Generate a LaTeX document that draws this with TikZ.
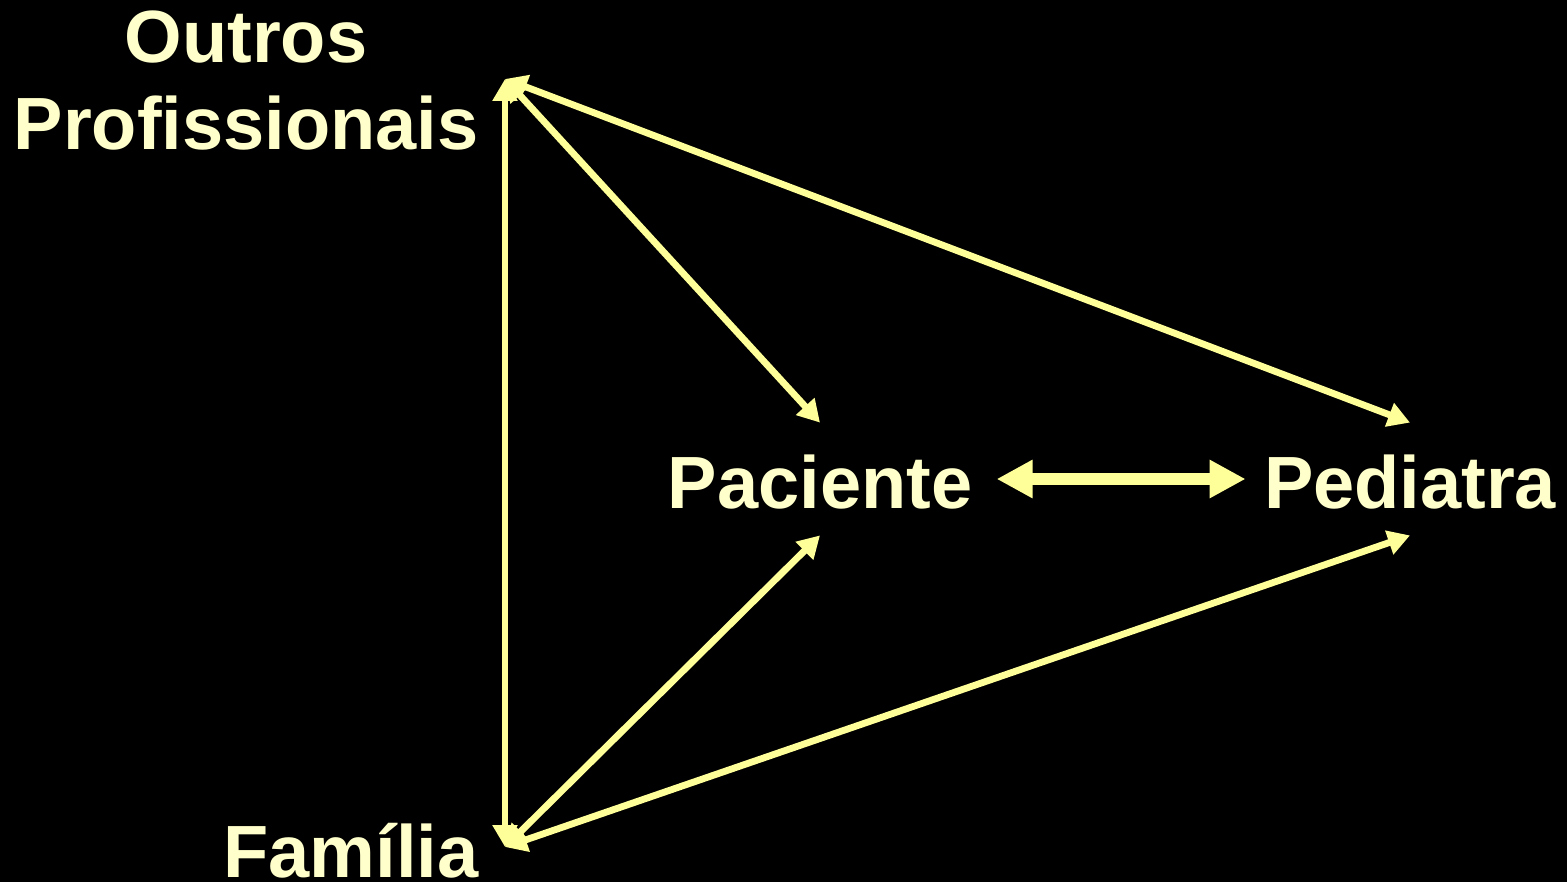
\documentclass[tikz,border=0pt]{standalone}
\usepackage{fontspec}
\setmainfont{Liberation Sans}
\usetikzlibrary{arrows.meta, positioning}
\definecolor{lineyellow}{RGB}{255,255,153}
\definecolor{textyellow}{RGB}{255,255,204}

\begin{document}
\begin{tikzpicture}[x=0.5pt,y=-0.5pt,<->,>={Triangle[length=11pt,width=12pt]}]
				\tikzstyle{word} = [text=textyellow, font=\fontsize{37}{43.5}\selectfont\bfseries, inner sep=0pt]
				\tikzstyle{mid} = [word, text height=42.5pt, text depth=13.5pt, inner xsep=12pt]
				\tikzstyle{link} = [draw=lineyellow, line width=3.4pt]
				\tikzstyle{bold link} = [draw=lineyellow, line width=6pt, >={Triangle[length=18pt,width=18pt]}]

				\fill[black,-] (0,0) rectangle (1567,882);
				\useasboundingbox (0,0) rectangle (1567,882);

				\node[word, align=center, anchor=base] (outros) at (246,150) {Outros\\Profissionais};
				\node[word, anchor=base] (familia) at (351,877) {Família};
				\node[mid, anchor=base] (paciente) at (820,508) {Paciente};
				\node[mid, anchor=base, inner xsep=9pt] (pediatra) at (1410,508) {Pediatra};

				\coordinate (outros tip) at (505,79);
				\coordinate (familia tip) at (505,847);

				\path (outros tip) edge [link] (familia tip)
				      edge [link] (paciente.north)
				      edge [link] (pediatra.north)
				      (familia tip) edge [link] (paciente.south)
				      edge [link] (pediatra.south)
				      (paciente) edge [bold link] (pediatra);
			\end{tikzpicture}
\end{document}
